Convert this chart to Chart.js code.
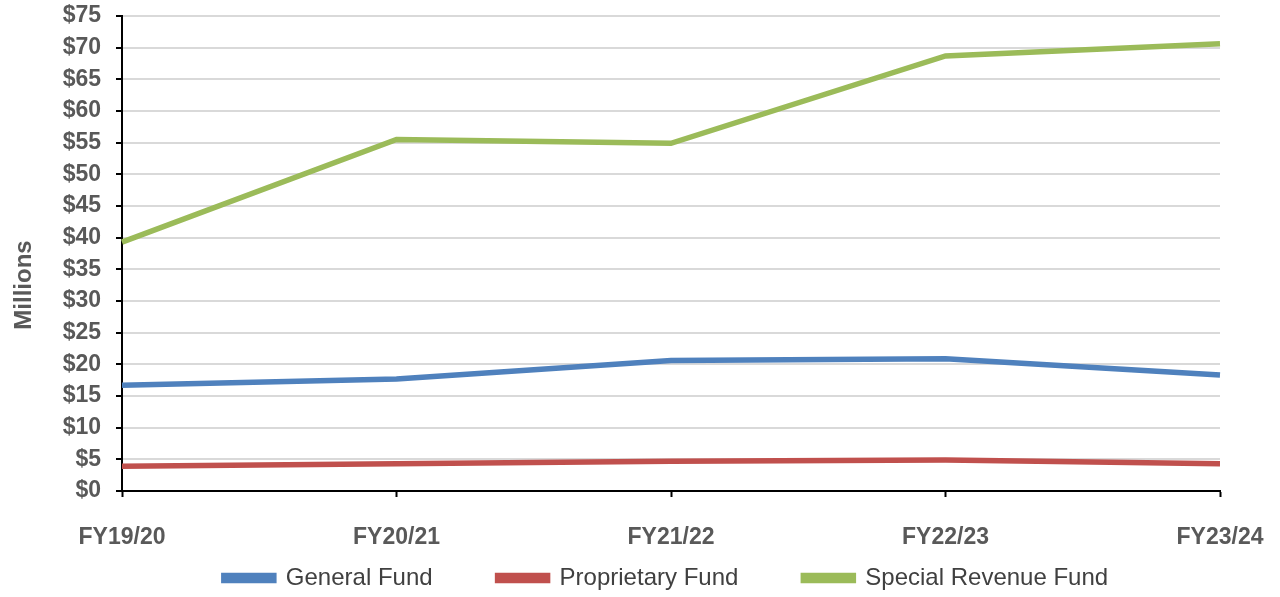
<!DOCTYPE html>
<html>
<head>
<meta charset="utf-8">
<script src="https://cdn.jsdelivr.net/npm/chart.js@4/dist/chart.umd.min.js"></script>
<style>
  html, body { margin: 0; padding: 0; background: #ffffff; }
  #wrap { width: 1280px; height: 597px; position: relative; }
</style>
</head>
<body>
<div id="wrap"><canvas id="chart"></canvas></div>
<script>
// Fiscal years on the category axis
const fiscalYears = ['FY19/20', 'FY20/21', 'FY21/22', 'FY22/23', 'FY23/24'];

// Fund totals, in millions of dollars
const generalFund = [16.7, 17.7, 20.6, 20.9, 18.3];
const proprietaryFund = [3.9, 4.3, 4.7, 4.9, 4.3];
const specialRevenueFund = [39.3, 55.5, 54.9, 68.7, 70.6];

// Value axis range
const yMin = 0;
const yMax = 75;
const yStep = 5;

const FONT = "'Liberation Sans', Arial, sans-serif";

// Rotated axis title on the left edge
const axisTitlePlugin = {
  id: 'axisTitle',
  afterDraw(chart) {
    const ctx = chart.ctx;
    ctx.save();
    ctx.translate(24, 285);
    ctx.rotate(-Math.PI / 2);
    ctx.font = "bold 24px " + FONT;
    ctx.fillStyle = '#595959';
    ctx.textAlign = 'center';
    ctx.textBaseline = 'middle';
    ctx.fillText('Millions', 0, 0);
    ctx.restore();
  }
};

// Place the legend row: centred under the plot, just below the axis labels
const legendPlacePlugin = {
  id: 'legendPlace',
  afterLayout(chart) {
    const lg = chart.legend;
    const centerX = 666;
    const dx = centerX - (lg.left + lg.right) / 2;
    lg.left += dx;
    lg.right += dx;
    const pad = lg.options.labels.padding;
    const itemH = lg.options.labels.font.size;
    const top = 578 - itemH / 2 - pad;
    lg.top = top;
    lg.bottom = top + lg.height;
  }
};

function series(label, data, color) {
  return {
    label: label,
    data: data,
    borderColor: color,
    backgroundColor: color,
    borderWidth: 5.5,
    pointRadius: 0,
    pointHoverRadius: 0,
    tension: 0,
    fill: false
  };
}

new Chart(document.getElementById('chart'), {
  type: 'line',
  data: {
    labels: fiscalYears,
    datasets: [
      series('General Fund', generalFund, '#4f81bd'),
      series('Proprietary Fund', proprietaryFund, '#c0504d'),
      series('Special Revenue Fund', specialRevenueFund, '#9bbb59')
    ]
  },
  options: {
    responsive: true,
    maintainAspectRatio: false,
    animation: false,
    layout: { padding: { left: 0, right: 60, top: 16, bottom: -54 } },
    plugins: {
      tooltip: { enabled: false },
      legend: {
        position: 'bottom',
        labels: {
          boxWidth: 50,
          boxHeight: 5,
          padding: 65,
          color: '#404040',
          font: { family: FONT, size: 24 }
        }
      }
    },
    scales: {
      x: {
        offset: false,
        grid: {
          drawOnChartArea: false,
          drawTicks: true,
          tickLength: 6,
          tickColor: '#000000',
          tickWidth: 2
        },
        border: { display: true, color: '#000000', width: 2 },
        ticks: {
          color: '#595959',
          padding: 27,
          maxRotation: 0,
          autoSkip: false,
          font: { family: FONT, size: 23, weight: 'bold' }
        },
        afterFit(scale) {
          scale.height = 61;
          scale.paddingLeft = 0;
          scale.paddingRight = 0;
        }
      },
      y: {
        min: yMin,
        max: yMax,
        grid: {
          color: '#d9d9d9',
          lineWidth: 2,
          drawTicks: true,
          tickLength: 6,
          tickColor: '#000000',
          tickWidth: 2
        },
        border: { display: true, color: '#000000', width: 2 },
        ticks: {
          stepSize: yStep,
          color: '#595959',
          padding: 15,
          font: { family: FONT, size: 23, weight: 'bold' },
          callback: (v) => '$' + v
        },
        afterFit(scale) {
          scale.width = 122;
          scale.paddingTop = 0;
          scale.paddingBottom = 0;
        }
      }
    }
  },
  plugins: [axisTitlePlugin, legendPlacePlugin]
});
</script>
</body>
</html>
